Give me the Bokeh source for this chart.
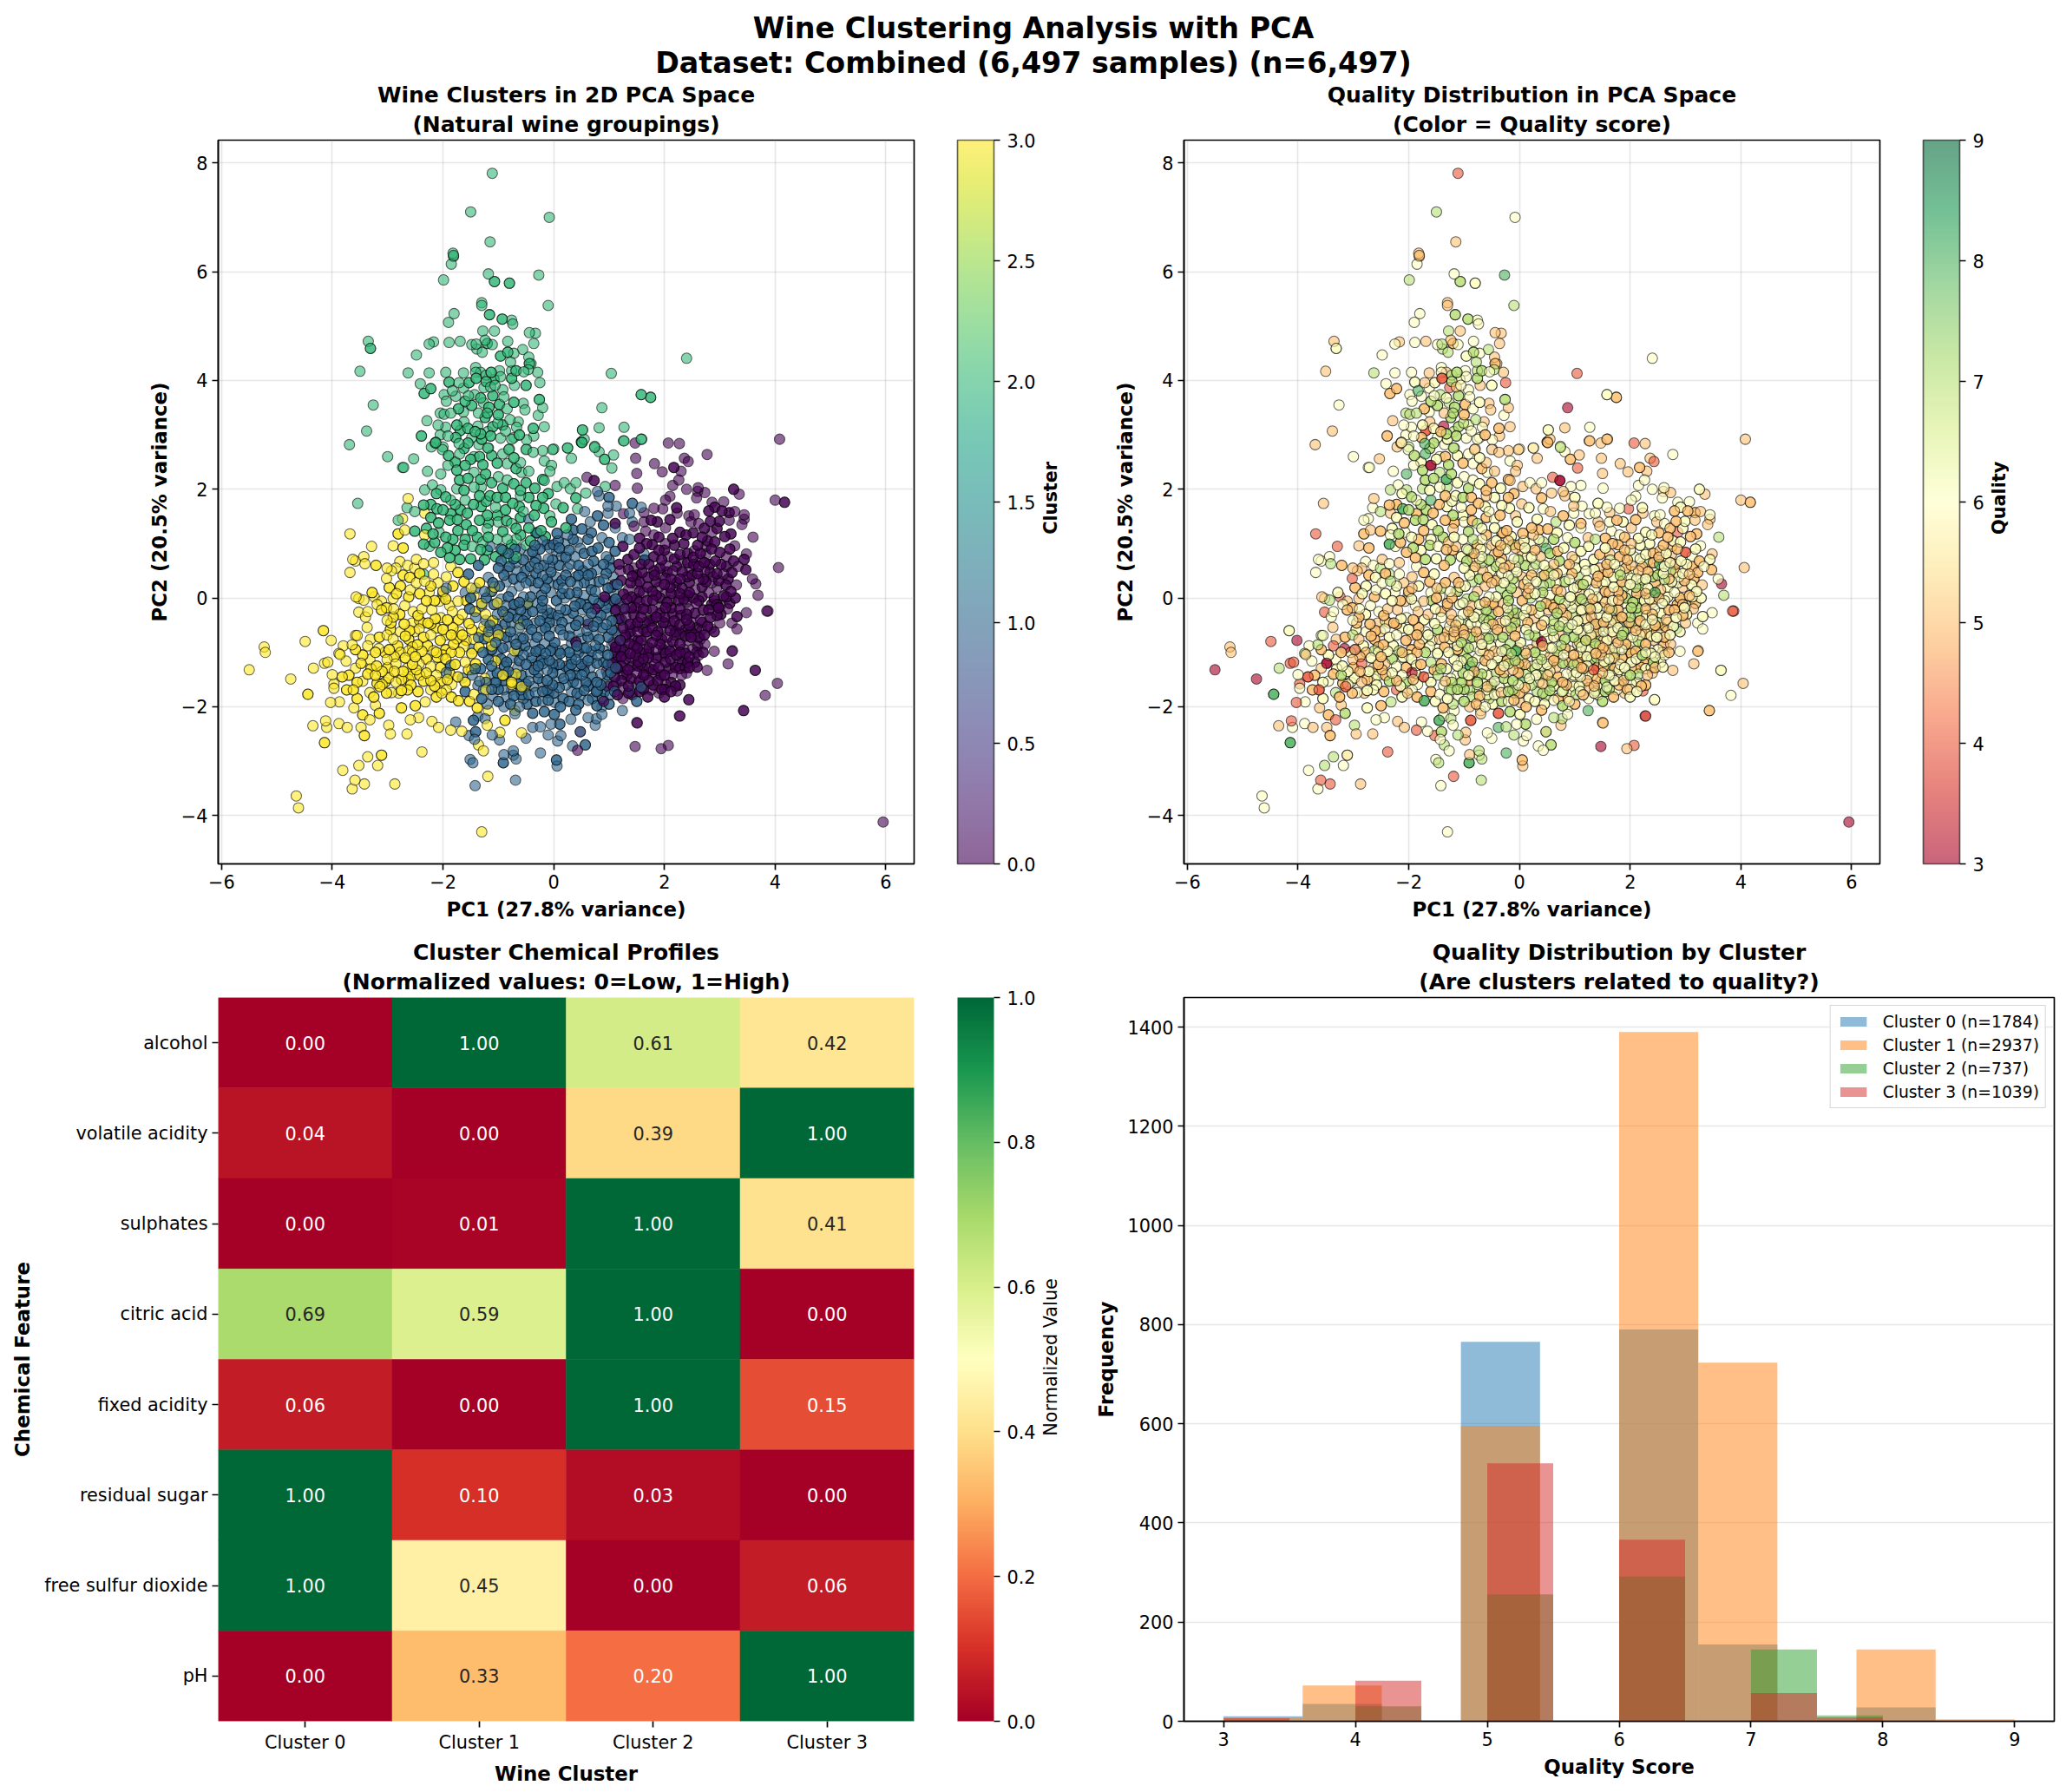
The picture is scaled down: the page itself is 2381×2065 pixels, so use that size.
import numpy as np
from bokeh.core.properties import value
from bokeh.embed import file_html
from bokeh.layouts import column, row
from bokeh.models import (ColorBar, ColumnDataSource, FactorRange, FixedTicker, Legend, LegendItem,
                          LinearColorMapper, PrintfTickFormatter, Title)
from bokeh.palettes import Viridis256
from bokeh.plotting import figure
from bokeh.resources import INLINE

# ---- PCA points: (PC1, PC2, quality) ----
cluster2_points = [(-1.11,7.81,4),(-1.50,7.10,7),(-.08,7.00,6),(-1.15,6.55,5),(-1.82,6.34,5),(-1.81,6.30,5),(-1.81,6.28,5),(-1.85,6.14,6),(-1.99,5.85,7),(-1.18,5.96,6),(-1.07,5.82,7),(-1.07,5.82,7),(-.80,5.79,6),(-.80,5.79,6),(-.27,5.94,8),(-.10,5.38,7),(-1.30,5.43,5),(-1.30,5.38,5),(-1.16,5.21,7),(-1.16,5.21,7),(-.93,5.13,7),(-.93,5.13,7),(-.76,5.11,6),(-.74,5.04,6),(-1.80,5.23,6),(-1.90,5.07,6),(-1.28,4.91,7),(-1.07,4.91,5),(-.44,4.88,5),(-.33,4.87,5),(-.36,4.68,5),(-3.35,4.72,5),(-3.31,4.59,6),(-3.31,4.59,6),(-2.17,4.71,5),(-2.25,4.67,6),(-1.89,4.70,6),(-1.69,4.72,5),(-2.48,4.47,6),(-1.48,4.66,6),(-1.40,4.67,7),(-1.39,4.58,7),(-1.29,4.52,7),(-1.24,4.74,5),(-1.20,4.68,5),(-1.20,4.68,5),(-1.11,4.66,6),(-.83,4.72,6),(-.56,4.57,7),(-.96,4.45,6),(-.96,4.45,6),(-.83,4.52,7),(-.83,4.52,7),(-.72,4.50,6),(-.45,4.43,5),(-.44,4.31,5),(-.44,4.31,5),(-.41,4.31,5),(-.78,4.34,7),(-.46,4.20,7),(-.29,4.15,5),(-.25,3.96,4),(-3.50,4.17,5),(-2.63,4.14,7),(-2.25,4.14,6),(-1.95,4.15,6),(-1.63,4.14,5),(-1.41,4.24,6),(-1.41,4.15,6),(-1.40,4.04,4),(-1.40,4.04,4),(-1.32,4.15,5),(-1.22,4.10,7),(-1.13,4.15,7),(-1.13,4.15,7),(-.98,4.18,6),(-.96,4.07,6),(-.76,4.18,7),(-.68,4.18,7),(-.68,4.18,7),(-.76,4.04,7),(-.76,4.04,7),(-.54,4.16,6),(-1.89,3.97,6),(-1.89,3.97,6),(-1.71,3.96,5),(-1.53,3.96,6),(-1.53,3.96,6),(-2.41,3.94,6),(-2.22,3.85,5),(-2.22,3.85,5),(-2.34,3.76,5),(-2.34,3.76,5),(-1.83,3.81,8),(-1.63,3.86,6),(-1.26,3.87,4),(-1.14,3.88,5),(-1.06,3.91,6),(-.92,3.83,6),(-.71,3.91,5),(-.50,3.91,6),(-.50,3.91,6),(-1.98,3.74,6),(-1.94,3.62,6),(-1.77,3.71,6),(-1.54,3.72,6),(-1.43,3.74,7),(-.90,3.70,6),(-.26,3.65,7),(-.26,3.65,7),(-.55,3.58,5),(-.20,3.50,5),(-.52,3.46,5),(-.28,3.36,6),(-3.26,3.55,6),(-3.38,3.07,5),(-3.69,2.82,5),(-2.29,3.26,5),(-2.05,3.40,7),(-1.98,3.38,7),(-1.86,3.40,7),(-1.63,3.42,6),(-1.48,3.54,7),(-1.48,3.54,7),(-1.36,3.40,5),(-1.27,3.59,7),(-1.17,3.51,7),(-1.17,3.51,7),(-.98,3.56,5),(-.98,3.56,5),(-1.00,3.37,5),(-1.00,3.37,5),(-1.24,3.32,7),(-1.24,3.32,7),(-.84,3.48,6),(-.79,3.28,7),(-.64,3.24,5),(-.67,3.14,6),(-1.62,3.24,5),(-2.09,3.18,6),(-1.95,3.14,6),(-1.37,3.16,3),(-1.42,3.06,5),(-1.42,3.06,5),(-1.69,3.08,4),(-1.69,3.08,4),(-1.01,3.22,7),(-.87,3.07,6),(-1.19,3.06,7),(-1.77,2.95,5),(-1.77,2.95,5),(-2.05,3.00,6),(-2.39,2.98,5),(-2.39,2.98,5),(-1.91,2.98,6),(-1.48,2.95,6),(-1.14,2.98,7),(-1.14,2.98,7),(-.96,2.94,6),(-.72,2.95,6),(-.37,3.12,5),(-.37,3.12,5),(-.17,3.15,5),(-.36,2.98,5),(-.49,2.91,6),(.52,3.09,6),(.52,3.09,6),(.82,3.13,5),(1.27,3.14,6),(1.27,2.89,5),(1.58,2.92,5),(.87,3.50,3),(1.58,3.74,6),(1.58,3.74,6),(1.75,3.69,5),(1.75,3.69,5),(1.04,4.13,4),(2.40,4.41,6),(.50,2.87,5),(.50,2.87,5),(.55,2.92,5),(.74,2.79,6),(.25,2.76,5),(0,2.74,6),(-.20,2.71,5),(-2.13,2.86,6),(-2.13,2.86,6),(-2.21,2.78,5),(-2.0,2.78,7),(-1.71,2.84,8),(-1.35,2.82,6),(-1.19,2.76,7),(-.80,2.74,6),(-.49,2.74,4),(-3.0,2.60,6),(-2.71,2.40,6),(-2.53,2.56,5),(-2.73,2.40,6),(-2.28,2.33,6),(-3.54,1.74,5),(-2.51,1.59,7),(-2.65,1.66,6),(-2.81,1.43,6),(-2.51,1.23,5),(-2.51,1.23,5),(-2.33,1.99,7),(-2.19,2.08,6),(-2.04,1.99,7),(-2.04,2.28,8),(-2.14,2.85,5),(-2.14,2.85,5),(-2.01,2.73,6),(-1.70,2.65,8),(-1.44,2.60,6),(-1.34,2.60,5),(-1.34,2.60,5),(-1.18,2.76,7),(-.92,2.65,6),(-.76,2.92,6),(-.81,2.73,5),(-.84,2.47,6),(-.60,2.49,5),(-.50,2.73,6),(-.37,2.68,5),(-.58,2.31,6),(-.45,2.33,5),(-1.91,2.44,6),(-1.60,2.44,3),(-1.60,2.44,3),(-1.44,2.31,7),(-1.23,2.28,7),(-1.23,2.28,7),(-1.0,2.23,6),(-.84,2.17,6),(-.50,2.12,5),(-.50,2.12,5),(-1.70,2.17,7),(-1.70,2.17,7),(-1.44,2.04,6),(-1.31,2.04,7),(-1.15,1.88,6),(-1.15,1.88,6),(-.87,1.85,5),(-.87,1.85,5),(-.45,1.85,6),(-.45,1.85,6),(-.60,1.88,5),(-1.75,2.01,7),(-1.34,1.88,5),(-1.34,1.88,5),(-1.60,1.80,8),(-1.78,1.72,7),(-1.78,1.72,7),(-2.35,1.71,5),(-2.35,1.71,5),(-2.22,1.72,5),(-2.22,1.72,5),(-2.11,1.64,8),(-2.11,1.64,8),(-1.31,1.68,6),(-1.31,1.68,6),(-.87,1.62,5),(-.87,1.62,5),(-1.05,1.67,6),(-1.86,1.80,6),(-.55,1.59,6),(-.60,1.48,5),(-.60,1.48,5),(-1.56,1.56,5),(-1.56,1.56,5),(-1.88,1.43,7),(-1.88,1.43,7),(-1.34,1.43,5),(-1.34,1.43,5),(-1.0,1.40,6),(-.76,1.37,7),(-.45,1.29,6),(-.45,1.29,6),(-1.73,1.24,5),(-1.73,1.24,5),(-1.47,1.24,7),(-1.47,1.24,7),(-2.07,1.21,6),(-1.20,1.27,5),(-1.02,1.08,6),(-.60,1.16,5),(-.60,1.16,5),(-.68,1.08,6),(-.84,1.08,7),(-1.60,1.08,6),(-1.60,1.08,6),(-1.28,1.03,5),(-2.35,.99,8),(-2.35,.99,8),(-2.24,.95,6),(-2.04,.84,5),(-2.04,.84,5),(-1.62,.97,7),(-1.62,.97,7),(-1.47,.95,6),(-1.32,.89,5),(-1.32,.89,5),(-1.70,.71,7),(-1.70,.71,7),(-1.05,.76,6),(-1.05,.76,6),(-.84,.73,5),(-.68,.76,6),(-.50,.97,5),(-2.35,.44,7),(-.02,2.73,5),(.25,2.76,6),(.32,2.57,5),(.51,2.86,5),(.51,2.86,5),(.74,2.77,7),(.82,2.69,6),(.92,2.55,5),(.92,2.55,5),(1.08,2.63,5),(1.05,2.39,4),(1.26,2.89,5),(1.59,2.92,5),(-.17,2.52,6),(-.04,2.44,5),(-.07,2.33,5),(-.17,2.16,5),(.06,2.05,5),(.19,2.12,6),(.30,2.01,5),(.40,2.12,6),(.58,1.93,5),(.40,1.84,5),(.40,1.84,5),(.17,1.66,6),(.17,1.66,6),(.04,1.73,5),(-.20,1.85,5),(-.20,1.85,5),(.43,1.64,6),(.93,2.05,6),(-.04,1.40,6),(-.04,1.40,6),(-.07,1.51,5),(-.23,1.24,5),(-.23,1.24,5),(-.15,1.13,6),(-.15,1.13,6),(.22,1.29,5),(.22,1.29,5)]
cluster2_core = [(-1.9,2.62,7),(-1.78,2.5,6),(-1.62,2.75,7),(-1.5,2.55,6),(-1.28,2.45,7),(-1.12,2.62,6),(-1.02,2.48,5),(-.72,2.58,6),(-.68,2.38,5),(-1.75,2.35,7),(-1.55,2.2,7),(-1.32,2.18,8),(-1.12,2.12,6),(-.92,2.02,7),(-.72,2.1,6),(-.6,1.98,5),(-.34,2.02,6),(-.2,2.18,5),(-2.12,1.92,6),(-1.95,1.86,7),(-1.62,1.98,6),(-1.22,1.78,6),(-1.02,1.85,7),(-.74,1.74,5),(-.32,1.7,6),(-.1,1.92,5),(-2.0,1.62,7),(-1.86,1.55,5),(-1.68,1.62,7),(-1.45,1.72,5),(-1.2,1.52,7),(-1.02,1.52,6),(-.85,1.42,5),(-.62,1.68,6),(-.35,1.52,5),(-.18,1.65,6),(-2.22,1.48,6),(-2.08,1.38,5),(-1.74,1.44,7),(-1.58,1.35,6),(-1.18,1.38,5),(-.92,1.22,7),(-.68,1.28,6),(-.32,1.2,5),(-2.3,1.28,6),(-2.18,1.18,7),(-1.95,1.12,6),(-1.82,1.08,5),(-1.38,1.12,7),(-1.18,1.12,6),(-.76,.98,5),(-.42,1.05,6),(-2.15,1.02,5),(-1.92,.92,7),(-1.78,.88,6),(-1.2,.88,5),(-.92,.88,7),(-1.88,.74,5),(-1.5,.72,6),(-1.25,.7,7),(-1.32,3.02,7),(-1.55,3.12,6),(-1.1,3.15,7),(-.92,3.18,6),(-1.6,3.62,7),(-1.32,3.68,6),(-1.1,3.72,7),(-1.72,3.48,5),(-.72,3.6,6),(-1.2,3.4,7),(-1.3,2.92,6),(-1.55,2.85,7),(-.62,3.0,5),(-1.08,4.02,6),(-1.22,3.98,7),(-1.75,3.18,6)]
cluster3_points = [(-2.63,1.83,5),(-2.33,1.56,5),(-2.73,1.46,6),(-3.68,1.18,4),(-2.69,1.25,5),(-2.81,1.18,5),(-2.81,1.18,5),(-2.33,1.16,6),(-3.29,.95,4),(-2.90,.96,5),(-2.72,.92,5),(-2.72,.92,5),(-3.63,.71,6),(-3.58,.68,6),(-3.43,.76,6),(-3.41,.63,7),(-3.68,.47,6),(-3.21,.60,5),(-3.21,.60,5),(-3.01,.55,5),(-2.78,.67,6),(-2.85,.55,5),(-2.93,.50,5),(-3.02,.36,4),(-2.64,.60,6),(-2.48,.71,5),(-2.35,.63,6),(-2.17,.65,5),(-2.51,.55,7),(-2.97,.19,5),(-2.97,.19,5),(-2.77,.22,6),(-2.77,.22,6),(-2.59,.15,6),(-2.48,.28,6),(-2.33,.31,7),(-2.09,.28,5),(-1.94,.39,5),(-1.73,.47,5),(-1.73,.47,5),(-1.86,.58,6),(-2.17,.44,6),(-3.57,.02,5),(-3.52,-.01,6),(-3.43,-.04,7),(-3.28,.10,6),(-3.28,.10,6),(-3.24,.02,4),(-3.11,-.06,5),(-3.19,-.12,6),(-3.11,-.22,5),(-3.11,-.22,5),(-3.52,-.26,4),(-3.40,-.35,6),(-3.36,-.25,6),(-3.37,-.54,5),(-2.90,-.01,5),(-2.69,-.14,6),(-2.89,-.20,6),(-2.54,-.25,6),(-2.38,-.20,5),(-2.20,-.22,5),(-2.25,.10,6),(-2.07,-.06,5),(-1.88,-.14,6),(-1.73,-.06,5),(-1.44,.04,6),(-1.34,.28,5),(-1.34,.28,5),(-1.07,.20,6),(-1.07,.20,6),(-1.15,.12,5),(-1.02,-.09,6),(-1.49,.18,5),(-.89,-.30,7),(-.89,-.30,7),(-1.23,-.30,5),(-1.53,-.47,6),(-1.53,-.47,6),(-1.65,-.30,5),(-1.83,-.25,5),(-2.04,-.36,6),(-2.35,-.46,5),(-2.27,-.46,5),(-2.27,-.46,5),(-2.56,-.46,5),(-2.94,-.46,5),(-2.94,-.46,5),(-3.01,-.41,6),(-2.51,-.62,5),(-2.77,-.62,6),(-3.01,-.68,7),(-2.90,-.76,5),(-2.62,-.76,5),(-2.62,-.76,5),(-2.43,-.57,6),(-2.22,-.68,6),(-1.94,-.68,5),(-1.70,-.62,6),(-1.65,-.68,6),(-1.65,-.68,6),(-1.44,-.76,5),(-1.26,-.52,6),(-1.0,-.68,5),(-1.0,-.68,5),(-.89,-.62,5),(-.71,-.97,6),(-.60,-.49,6),(-.47,-.09,5),(-.47,-.09,5),(-.58,-1.63,5),(-.58,-1.63,5),(-4.16,-.60,6),(-4.16,-.60,6),(-4.49,-.80,4),(-4.02,-.78,3),(-5.23,-.90,5),(-5.21,-1.0,5),(-5.50,-1.32,3),(-4.75,-1.49,3),(-4.34,-1.29,7),(-4.14,-1.20,4),(-4.08,-1.18,4),(-3.86,-1.04,5),(-3.80,-.88,6),(-3.75,-1.16,6),(-3.64,-.86,7),(-3.58,-.69,7),(-3.58,-.95,5),(-3.58,-.95,5),(-3.36,-.88,4),(-3.31,-.76,5),(-3.16,-.93,3),(-2.97,-.95,3),(-2.97,-.95,5),(-2.77,-1.0,5),(-2.77,-1.0,5),(-2.62,-.97,7),(-2.46,-.86,5),(-2.46,-.86,5),(-2.28,-.88,6),(-2.28,-.88,6),(-2.17,-.97,7),(-2.10,-1.09,6),(-2.10,-1.09,6),(-1.81,-.85,5),(-1.81,-.85,5),(-1.62,-.89,6),(-1.60,-1.18,7),(-1.41,-1.21,5),(-1.41,-1.21,5),(-1.05,-1.16,6),(-1.05,-1.16,6),(-3.48,-1.20,3),(-3.48,-1.20,3),(-3.32,-1.13,6),(-3.01,-1.13,5),(-2.85,-1.21,4),(-2.64,-1.29,5),(-2.43,-1.21,5),(-2.22,-1.26,6),(-4.0,-1.41,6),(-3.82,-1.45,4),(-3.82,-1.45,4),(-3.97,-1.58,4),(-3.97,-1.66,6),(-3.58,-1.29,5),(-3.36,-1.40,5),(-3.36,-1.40,5),(-3.45,-1.53,6),(-3.19,-1.57,5),(-3.19,-1.57,5),(-3.14,-1.63,4),(-3.14,-1.63,4),(-2.98,-1.47,6),(-2.98,-1.47,6),(-2.85,-1.55,5),(-2.64,-1.40,7),(-2.48,-1.32,5),(-2.48,-1.32,5),(-2.35,-1.53,7),(-2.35,-1.53,7),(-2.12,-1.42,6),(-1.94,-1.69,6),(-1.73,-1.45,4),(-1.73,-1.45,4),(-3.74,-1.69,5),(-3.74,-1.69,5),(-3.62,-1.69,4),(-3.62,-1.69,4),(-4.44,-1.77,8),(-4.44,-1.77,8),(-3.32,-1.74,7),(-2.93,-1.74,6),(-2.64,-1.69,6),(-2.64,-1.69,6),(-2.22,-1.69,4),(-2.04,-1.71,6),(-1.44,-1.77,6),(-1.23,-1.69,7),(-1.54,-1.32,5),(-1.54,-1.32,5),(-.92,-1.42,6),(-.92,-1.42,6),(-.68,-1.40,7),(-.68,-1.40,7),(-.76,-1.55,7),(-.76,-1.55,7),(-1.15,-.73,6),(-4.12,-2.26,4),(-4.03,-1.92,4),(-3.87,-1.91,6),(-3.61,-2.02,5),(-3.88,-2.31,6),(-3.73,-2.38,5),(-4.35,-2.35,5),(-4.1,-2.38,6),(-4.14,-2.66,8),(-4.14,-2.66,8),(-3.48,-2.38,5),(-3.42,-2.53,5),(-3.42,-2.53,5),(-3.32,-2.24,4),(-2.98,-2.34,7),(-2.95,-2.5,5),(-2.65,-2.5,5),(-2.59,-2.24,6),(-2.44,-2.2,6),(-2.2,-2.27,5),(-2.08,-2.38,5),(-1.86,-2.43,4),(-1.66,-2.45,6),(-2.38,-2.83,4),(-3.36,-2.92,7),(-3.11,-2.89,5),(-3.11,-2.89,6),(-3.18,-3.08,6),(-3.52,-3.08,7),(-3.81,-3.17,6),(-3.42,-3.42,4),(-2.87,-3.42,5),(-3.59,-3.35,4),(-3.64,-3.51,6),(-4.65,-3.64,6),(-4.61,-3.86,6),(-1.19,-3.28,4),(-1.30,-4.30,6),(-1.36,-2.70,7),(-1.27,-2.81,6),(-1.2,-2.34,6),(-.88,-2.25,4),(-.88,-2.25,4),(-.97,-2.47,5),(-.58,-2.48,6),(-.7,-2.07,6),(-3.22,-1.97,5),(-3.10,-1.59,6),(-2.8,-1.75,5),(-2.56,-1.43,6),(-2.32,-1.91,7),(-2.02,-1.75,5),(-1.84,-1.59,6),(-1.48,-1.32,7),(-1.72,-1.89,8),(-1.72,-1.89,8),(-1.18,-2.07,6),(-.52,-1.64,7),(-.52,-1.64,7),(-.76,-1.59,6),(-.94,-1.43,7),(-1.24,-1.48,6),(-3.88,-1.02,7),(-3.55,-.69,6)]
cluster3_core = [(-2.72,.42,5),(-2.6,.38,6),(-2.42,.45,5),(-2.22,.22,6),(-2.0,.12,5),(-1.82,.22,6),(-1.62,.3,5),(-2.84,.08,6),(-2.62,.02,5),(-2.42,.08,6),(-2.15,-.05,5),(-1.95,-.02,6),(-1.58,-.05,7),(-1.3,-.1,5),(-3.02,-.18,5),(-2.78,-.3,6),(-2.45,-.32,5),(-2.14,-.38,6),(-1.92,-.4,5),(-1.72,-.4,6),(-1.42,-.25,5),(-1.1,-.42,6),(-2.7,-.48,5),(-2.12,-.55,6),(-1.82,-.55,5),(-1.48,-.58,7),(-1.18,-.72,5),(-2.95,-.58,6),(-2.6,-.6,5),(-2.35,-.72,6),(-2.05,-.78,5),(-1.75,-.75,6),(-1.35,-.9,5),(-1.12,-.88,6),(-3.15,-.72,5),(-2.82,-.88,6),(-2.55,-.9,5),(-2.38,-.98,6),(-1.95,-.95,5),(-1.7,-1.0,7),(-1.48,-1.02,6),(-3.22,-1.0,5),(-3.05,-1.0,6),(-2.88,-1.08,5),(-2.68,-1.1,6),(-2.5,-1.08,5),(-2.3,-1.12,7),(-1.95,-1.12,6),(-1.78,-1.22,5),(-3.2,-1.25,6),(-3.0,-1.28,5),(-2.72,-1.35,6),(-2.55,-1.22,5),(-2.3,-1.38,6),(-2.05,-1.28,5),(-1.88,-1.38,6),(-3.22,-1.42,7),(-3.05,-1.55,6),(-2.75,-1.5,5),(-2.58,-1.6,6),(-2.22,-1.52,5),(-2.05,-1.55,7),(-1.6,-1.55,6),(-3.02,-1.75,5),(-2.75,-1.7,6),(-2.45,-1.72,5),(-2.12,-1.82,6),(-1.85,-1.82,5),(-3.55,-1.55,6),(-3.7,-1.42,5),(-3.45,-1.05,6),(-3.25,-1.82,5),(-3.55,-1.85,6),(-3.45,-2.15,5),(-3.15,-2.12,7),(-2.75,-2.02,6),(-2.5,-1.98,5),(-1.52,-1.9,6),(-1.38,-2.02,5),(-2.68,-.7,5),(-2.42,-.42,6),(-2.22,-.48,5),(-2.0,-.58,6),(-1.85,-.68,5),(-1.58,-.78,6),(-1.3,-.62,5),(-2.55,-1.0,6),(-2.12,-1.0,5),(-2.0,-1.05,6),(-1.85,-1.0,5),(-3.1,-1.35,6),(-2.88,-1.35,5),(-2.62,-1.5,6),(-2.42,-1.42,5),(-2.15,-1.62,6),(-1.92,-1.5,5),(-3.3,-1.3,6),(-2.9,-.35,5),(-2.3,-.05,6)]
cluster1_points = [(.79,1.96,5),(1.0,1.85,6),(1.0,1.85,6),(.82,1.88,5),(1.13,1.69,6),(.98,1.69,5),(1.42,1.74,6),(1.42,1.74,6),(1.37,1.56,6),(1.58,1.67,6),(1.42,1.40,5),(.98,1.56,6),(.79,1.51,5),(.79,1.51,5),(.56,1.59,5),(.32,1.45,6),(.32,1.45,6),(.66,1.40,7),(.90,1.34,6),(.90,1.34,6),(.51,1.27,5),(.51,1.27,5),(1.11,1.29,6),(.25,1.16,5),(.06,1.19,5),(.06,1.19,5),(.43,1.03,7),(.87,1.11,6),(1.37,1.08,7),(1.24,1.11,5),(.48,.91,8),(.69,.86,5),(.69,.86,5),(1.11,.86,6),(1.11,.86,6),(1.64,.70,6),(1.64,.70,6),(1.63,.81,5),(.95,.76,5),(.53,.50,7),(.53,.50,7),(.14,.76,6),(-.07,.92,5),(.38,.76,5),(1.08,.39,7),(.25,.55,6),(-.07,.58,6),(-.28,.55,5),(.04,.39,5),(.40,.39,7),(.66,.28,6),(.90,.34,6),(1.08,.10,5),(.92,-.04,6),(.43,.23,7),(.17,.18,5),(-.09,.28,6),(.40,-.04,6),(1.26,-.17,7),(1.11,-.25,5),(.79,-.44,6),(.79,-.44,6),(.61,-.41,7),(.27,-.38,5),(.04,-.41,6),(-.2,-.30,7),(.95,-.49,6),(1.38,-.52,8),(.72,-.68,5),(.46,-.62,6),(.17,-.68,7),(-.07,-.57,5),(.82,-.76,7),(.82,-.76,7),(.59,-.92,6),(.32,-.84,5),(.09,-.97,6),(-.17,-.84,7),(.9,-.97,6),(1.21,-.97,5),(.69,-1.10,5),(.40,-1.13,7),(.32,-1.10,6),(.32,-1.10,6),(-.06,-.97,8),(-.06,-.97,8),(.22,-1.26,6),(.22,-1.26,6),(-.02,-1.21,5),(-.2,-1.21,7),(.9,-1.18,5),(.9,-1.18,5),(1.03,-1.37,6),(1.03,-1.37,6),(1.13,-1.58,6),(.79,-1.71,7),(.79,-1.71,7),(.51,-1.42,5),(.64,-1.61,6),(.3,-1.42,6),(.3,-1.42,6),(.04,-1.53,8),(-.12,-1.69,7),(-.12,-1.69,7),(-.28,-1.37,5),(1.58,-1.63,8),(1.37,-1.71,7),(-1.15,.95,5),(-1.0,.55,6),(-1.0,.55,6),(-.66,.5,5),(-.45,1.45,6),(-.34,.97,5),(-.34,.97,5),(-.68,.65,7),(-.34,.65,6),(-.5,.28,5),(-.84,.5,6),(-1.36,.6,5),(-1.36,.6,5),(-1.54,.44,6),(-1.54,.44,6),(-1.41,.18,7),(-1.94,.18,5),(-2.01,.04,7),(-1.6,.1,6),(-.76,.12,5),(-.55,.02,6),(-.34,.18,7),(-.68,-.14,6),(-.87,-.14,5),(-1.02,-.3,6),(-.5,-.3,7),(-.5,-.3,7),(-1.23,-.41,5),(-1.41,-.36,6),(-1.05,-.46,7),(-.76,-.46,6),(-.34,-.46,5),(-1.18,-.62,5),(-.6,-.73,7),(-.81,-.89,6),(-1.36,-.73,5),(-1.47,-.94,6),(-1.15,-.97,7),(-.34,-.84,6),(-1.18,-1.13,6),(-1.18,-1.13,6),(-.89,-1.26,8),(-.89,-1.26,8),(-.55,-1.05,5),(-.34,-1.21,7),(-1.86,-1.24,6),(-1.86,-1.24,6),(-1.94,-1.37,3),(-1.13,-1.42,6),(-1.05,-1.55,7),(-1.05,-1.55,7),(-.45,-1.53,6),(-.76,-1.69,7),(-.37,-1.63,6),(-1.47,-1.42,7),(-1.34,-1.53,5),(-1.65,-1.47,6),(-1.77,-2.28,6),(-1.45,-2.25,8),(-1.45,-2.25,8),(-1.37,-2.17,6),(-1.24,-2.22,7),(-1.11,-2.52,7),(-.98,-2.61,5),(-1.41,-2.46,7),(-1.41,-2.46,7),(-1.43,-2.6,6),(-1.53,-2.53,4),(-.5,-2.58,6),(-.38,-2.38,8),(-.24,-2.37,7),(-.1,-2.52,7),(.07,-2.63,6),(.13,-2.53,6),(-.05,-2.32,6),(.11,-2.32,7),(.11,-2.32,7),(.31,-2.23,6),(.62,-2.2,7),(.75,-2.34,5),(.77,-2.22,7),(.87,-2.14,6),(.87,-2,6),(1.24,-2.07,8),(-.7,-2.13,5),(.48,-2.46,7),(-.17,-2.09,7),(-.17,-2.09,7),(-.38,-2.12,4),(-.38,-2.12,4),(.01,-2.14,6),(.01,-2.14,6),(.4,-2.06,5),(.4,-2.06,5),(-1.03,-1.56,6),(-.85,-1.82,7),(-.59,-1.69,6),(-.33,-1.74,5),(-.09,-1.74,7),(-.09,-1.74,7),(.17,-1.85,6),(.17,-1.85,6),(.48,-1.8,7),(.77,-1.72,6),(.77,-1.72,6),(1.5,-1.9,7),(1.5,-1.9,7),(1.58,-1.64,6),(-1.27,-1.69,7),(-1.37,-1.61,6),(-.9,-1.69,7),(-1.51,-2.97,6),(-1.46,-3.03,7),(-.91,-3.03,8),(-.91,-3.03,8),(-.90,-2.88,5),(-.73,-2.81,7),(-.73,-2.89,6),(-.68,-2.96,7),(-.24,-2.85,8),(.05,-2.98,5),(.05,-2.98,5),(.06,-3.09,5),(.34,-2.72,6),(.57,-2.70,7),(.57,-2.70,7),(-1.42,-3.45,6),(-.69,-3.35,7),(-.6,.9,6),(-.45,.8,5),(-.2,1.05,5),(-.1,.72,6),(.05,.85,5),(.2,1.0,6),(.3,.62,7),(.62,.62,5),(.78,.52,6),(-.85,.3,7),(-.62,.22,5),(-.2,.4,6),(-.05,.1,5),(.2,.0,7),(.55,.05,6),(.75,.12,5),(1.0,-.1,6),(-1.18,.38,5),(-1.25,.12,6),(-.95,-.02,7),(-.3,-.1,5),(-.12,-.22,7),(.12,-.2,6),(.52,-.22,5),(.95,-.3,7),(-1.3,-.15,5),(-.62,-.55,6),(-.45,-.68,7),(-.22,-.6,5),(.3,-.55,6),(.6,-.6,7),(1.12,-.65,6),(-.95,-.7,6),(-.72,-.75,5),(-.15,-1.02,7),(.2,-.95,5),(.5,-.75,6),(.75,-.88,7),(1.05,-.85,5),(-1.02,-1.0,7),(-.75,-1.1,6),(-.45,-.98,5),(-.18,-1.08,6),(.05,-1.1,7),(.55,-1.08,5),(.8,-1.05,6),(1.1,-1.1,7),(-.65,-1.28,6),(-.42,-1.38,7),(-.12,-1.32,5),(.12,-1.38,7),(.42,-1.25,6),(.66,-1.28,5),(.85,-1.4,6),(-.75,-1.42,7),(-.2,-1.55,6),(.22,-1.6,7),(.42,-1.58,5),(.95,-1.55,6),(-.55,-1.85,7),(-.2,-1.9,6),(.02,-1.92,5),(.32,-1.72,7),(.62,-1.88,6),(1.02,-1.78,7),(-1.1,-1.8,6),(-1.2,-1.95,7),(-.9,-2.0,5),(-.62,-2.0,6)]
cluster1_core = [(-.82,.82,5),(-.7,.9,6),(-.55,.7,7),(-.38,.85,5),(-.25,.9,6),(-.12,.98,7),(.0,.98,5),(.1,.92,6),(.28,.88,5),(.35,1.08,6),(.55,.82,7),(.8,.92,6),(.9,.62,5),(1.0,.7,6),(-.95,.68,7),(-.8,.58,5),(-.52,.5,6),(-.42,.58,7),(-.18,.6,5),(-.05,.48,6),(.1,.6,7),(.22,.42,5),(.45,.6,6),(.68,.45,5),(.82,.3,7),(1.02,.55,6),(-1.1,.28,5),(-.98,.22,6),(-.72,.35,7),(-.42,.32,5),(-.28,.28,6),(-.15,.18,7),(.08,.25,5),(.3,.3,6),(.55,.28,7),(.68,.15,5),(.98,.18,6),(1.15,.25,7),(-1.22,.0,5),(-1.08,-.12,6),(-.82,.02,7),(-.62,-.08,5),(-.42,.02,6),(-.22,.05,7),(.05,-.05,5),(.28,.08,6),(.42,.1,7),(.58,-.12,5),(.82,-.1,6),(1.12,-.02,7),(-.92,-.25,5),(-.75,-.28,6),(-.6,-.22,7),(-.38,-.25,5),(-.22,-.18,6),(-.05,-.28,7),(.22,-.22,5),(.35,-.28,6),(.68,-.28,7),(.85,-.32,5),(1.05,-.42,6),(-1.15,-.5,5),(-.88,-.48,6),(-.65,-.38,7),(-.48,-.48,5),(-.25,-.42,6),(-.08,-.45,7),(.15,-.45,5),(.45,-.42,6),(.88,-.55,7),(1.22,-.4,5),(-1.25,-.75,6),(-1.05,-.82,7),(-.78,-.62,5),(-.52,-.88,6),(-.3,-.72,7),(-.08,-.7,5),(.02,-.82,6),(.28,-.7,7),(.42,-.88,5),(.62,-.72,6),(.98,-.72,7),(1.2,-.78,5),(-1.28,-1.0,6),(-.92,-.92,7),(-.65,-.98,5),(-.4,-1.1,6),(-.25,-.95,7),(.12,-1.02,5),(.45,-1.0,6),(.68,-.98,7),(.98,-1.05,5),(-1.12,-1.25,6),(-.95,-1.12,7),(-.62,-1.15,5),(-.28,-1.25,6),(-.08,-1.15,7),(.1,-1.22,5),(.5,-1.22,6),(.78,-1.2,7),(1.12,-1.28,5),(-1.32,-1.3,6),(-1.02,-1.38,7),(-.82,-1.35,5),(-.58,-1.42,6),(-.28,-1.48,7),(-.02,-1.38,5),(.18,-1.48,6),(.42,-1.42,7),(.7,-1.45,5),(.98,-1.42,6),(-1.22,-1.55,7),(-.9,-1.52,5),(-.65,-1.58,6),(-.12,-1.52,7),(.1,-1.65,5),(.35,-1.55,6),(.58,-1.55,7),(.85,-1.6,5),(1.1,-1.72,6),(-1.0,-1.68,7),(-.72,-1.8,5),(-.45,-1.78,6),(-.2,-1.72,7),(.0,-1.75,5),(.28,-1.9,6),(.55,-1.7,7),(.7,-1.85,5),(.92,-1.72,6),(-1.0,-1.9,7),(-.78,-1.95,5),(-.48,-1.95,6),(-.32,-1.9,7),(.12,-2.0,5),(.45,-1.95,6),(.78,-1.98,7),(1.0,-1.95,5),(-1.3,-1.85,6),(-1.42,-1.3,7),(-1.6,-1.72,5),(-1.52,-.2,6),(-1.5,.0,5),(-.95,.9,6),(-.3,1.2,5),(.08,1.05,6),(.62,1.08,7),(.35,1.25,5),(.68,1.2,6),(1.0,1.02,7),(-.72,.72,6),(-.32,.72,5),(-.02,.7,7),(.22,.75,6),(.45,.42,5),(.72,.68,7),(-.9,.42,6),(-.58,.38,5),(-.32,.45,6),(-.12,.35,7),(.15,.08,5),(.62,.42,6),(.95,.45,5),(-1.12,.12,7),(-.72,-.12,6),(-.48,-.12,5),(-.2,-.05,7),(.15,.32,6),(.48,-.1,5),(.72,-.02,7),(1.05,.2,6),(-1.02,-.58,5),(-.82,-.35,6),(-.55,-.42,7),(-.12,-.35,5),(.08,-.32,6),(.38,-.15,7),(.62,-.18,5),(.95,-.18,6),(-.85,-.72,7),(-.68,-.85,6),(-.4,-.58,5),(-.15,-.55,7),(.12,-.58,6),(.4,-.5,5),(.72,-.52,7),(1.05,-.58,6),(-1.12,-.95,5),(-.55,-.75,7),(-.32,-.98,6),(-.02,-.92,5),(.28,-1.0,7),(.55,-.92,6),(.82,-.92,5),(-.85,-1.18,7),(-.5,-1.22,6),(-.22,-1.15,5),(.0,-1.28,7),(.32,-1.22,6),(.62,-1.15,5),(.98,-1.22,7),(-.9,-1.42,6),(-.5,-1.58,7),(-.35,-1.32,5),(-.02,-1.6,6),(.28,-1.3,7),(.55,-1.35,6),(.78,-1.55,5),(-1.12,-1.68,7),(-.58,-1.78,6),(-.1,-1.88,5),(.42,-1.75,7),(.62,-1.62,6),(.88,-1.85,5)]
cluster0_points = [(1.47,2.85,5),(2.07,2.85,4),(2.27,2.84,5),(4.08,2.92,5),(2.77,2.64,6),(2.36,2.57,5),(2.43,2.51,4),(1.48,2.57,5),(1.82,2.47,5),(2.17,2.4,5),(2.17,2.4,5),(1.96,2.32,5),(2.30,2.33,5),(1.5,2.29,5),(.6,2.22,4),(.73,2.16,3),(.73,2.16,3),(1.11,2.07,6),(1.51,2.02,6),(2.26,2.17,6),(2.15,2.07,6),(2.4,2.0,6),(2.61,2.03,6),(2.6,1.96,5),(2.73,1.94,5),(3.25,2.0,6),(3.25,2.0,6),(3.35,1.91,5),(2.58,1.84,6),(2.1,1.87,6),(2.02,1.8,6),(2.86,1.76,6),(3.07,1.77,6),(4.0,1.8,5),(4.17,1.76,5),(4.17,1.76,5),(2.22,1.66,6),(2.22,1.66,6),(1.81,1.65,6),(1.97,1.64,4),(2.91,1.67,6),(2.91,1.67,6),(2.8,1.6,5),(2.8,1.6,5),(3.04,1.6,5),(3.04,1.6,5),(3.17,1.57,5),(3.17,1.57,5),(3.27,1.59,5),(3.44,1.53,6),(3.44,1.45,5),(3.4,1.35,5),(2.23,1.56,5),(2.54,1.53,6),(2.44,1.51,6),(2.48,1.4,5),(2.62,1.37,6),(2.83,1.41,5),(2.83,1.41,5),(2.99,1.41,6),(2.99,1.41,6),(3.17,1.43,5),(1.63,1.57,5),(1.26,1.55,6),(1.76,1.43,5),(1.76,1.43,5),(1.87,1.4,6),(1.87,1.4,6),(2.1,1.44,5),(2.1,1.44,5),(2.02,1.29,5),(1.63,1.4,6),(1.45,1.32,5),(1.66,1.23,6),(1.11,1.37,5),(1.11,1.37,5),(2.28,1.21,6),(2.28,1.21,6),(2.52,1.2,5),(2.52,1.2,5),(2.39,1.16,6),(2.39,1.16,6),(2.86,1.21,4),(3.09,1.13,5),(3.09,1.13,5),(3.6,1.12,7),(2.91,1.03,6),(2.91,1.03,6),(3.27,.96,6),(1.68,1.0,5),(1.68,1.0,5),(2.02,1.0,5),(2.18,.97,6),(2.18,.97,6),(2.6,.97,5),(2.6,.97,5),(2.75,.95,5),(1.81,1.16,6),(3.48,.81,5),(3.0,.84,4),(3.0,.84,4),(2.92,.68,6),(2.92,.68,6),(3.44,.71,6),(3.44,.71,6),(3.47,.52,5),(3.47,.52,5),(3.33,.58,6),(3.12,.76,6),(4.06,.56,5),(2.53,.62,8),(2.53,.62,8),(2.28,.8,6),(2.28,.8,6),(2.54,.87,5),(2.75,.81,5),(2.07,.76,6),(1.81,.76,5),(1.81,.76,5),(1.34,.71,6),(1.34,.71,6),(1.63,.68,7),(2.02,.6,5),(2.31,.68,7),(2.73,.5,7),(2.88,.39,6),(3.07,.44,5),(3.22,.47,5),(3.22,.47,5),(2.28,.35,6),(2.28,.35,6),(2.41,.39,7),(2.41,.39,7),(1.81,.5,6),(1.81,.5,6),(1.6,.47,5),(1.6,.47,5),(1.39,.28,5),(1.39,.28,5),(1.5,.26,6),(2.02,.36,6),(2.62,.34,7),(2.86,.28,6),(3.11,.24,6),(3.11,.24,6),(3.59,.35,6),(3.65,.26,3),(3.3,.24,5),(3.69,.05,7),(3.07,.04,5),(3.07,.04,5),(3.28,0,6),(3.28,0,6),(3.01,-.14,6),(3.14,-.2,5),(3.48,-.27,6),(3.85,-.24,4),(3.02,-.3,6),(3.02,-.3,6),(3.31,-.34,6),(3.31,-.34,6),(3.22,-.46,6),(3.0,-.46,5),(2.83,-.36,6),(2.83,-.36,6),(2.84,-.56,8),(2.67,-.6,5),(3.31,-.57,6),(2.45,.1,8),(2.45,.1,8),(2.26,-.05,6),(2.26,-.05,6),(1.79,-.04,5),(1.79,-.04,5),(1.26,.07,6),(1.26,.07,6),(2.02,.1,6),(2.7,-.22,5),(2.7,-.22,5),(2.44,-.2,6),(2.15,-.29,7),(2.15,-.29,7),(1.85,-.35,5),(1.85,-.35,5),(1.45,-.31,6),(1.45,-.31,6),(1.67,-.22,7),(2.28,-.49,6),(2.28,-.49,6),(2.02,-.46,7),(1.85,-.69,7),(1.85,-.69,7),(2.28,-.65,5),(2.28,-.65,5),(2.18,-.68,6),(1.52,-.62,6),(1.13,-.41,5),(1.29,-.68,6),(2.54,-.68,6),(2.65,-.76,6),(2.73,-.85,5),(2.9,-.98,6),(3.22,-.98,5),(2.35,-.94,6),(2.05,-.86,6),(1.51,-.92,5),(1.51,-.92,5),(1.08,-.81,7),(.4,-.81,3),(.4,-.81,3),(1.71,-1.1,5),(1.71,-1.1,5),(2.11,-1.12,6),(2.11,-1.12,6),(2.45,-1.08,6),(2.45,-1.08,6),(1.37,-.84,7),(1.37,-.84,7),(1.13,-1.13,5),(1.13,-1.13,5),(1.53,-1.17,6),(1.53,-1.17,6),(1.92,-1.08,6),(1.16,-1.29,4),(1.16,-1.29,4),(2.59,-1.27,6),(2.59,-1.27,6),(3.15,-1.21,5),(3.64,-1.33,6),(3.64,-1.33,6),(4.04,-1.57,5),(2.77,-1.33,5),(2.4,-1.38,5),(2.31,-1.42,5),(1.94,-1.42,6),(1.94,-1.42,6),(1.65,-1.42,6),(1.34,-1.32,4),(1.34,-1.32,4),(2.02,-1.58,6),(.98,-1.63,6),(2.23,-1.71,4),(1.76,-1.69,6),(3.82,-1.79,6),(5.95,-4.12,3),(3.43,-2.07,5),(3.43,-2.07,5),(2.44,-1.87,6),(2.44,-1.87,6),(2.27,-2.17,3),(1.5,-2.29,5),(1.47,-2.73,3),(1.94,-2.77,5),(2.07,-2.71,4),(2.28,-2.17,4),(1.51,-2.30,5),(.43,-2.80,6),(.48,-2.46,5),(3.87,-.24,4),(3.23,-.97,5),(1.2,.5,6),(1.45,.55,5),(1.95,.42,6),(2.15,.5,5),(2.45,.55,6),(2.65,.7,5),(1.35,.15,6),(1.62,.1,5),(1.9,.2,7),(2.2,.15,6),(2.55,.15,5),(2.8,.1,6),(2.95,.2,5),(1.1,.25,5),(1.2,-.1,6),(1.55,-.08,5),(1.95,-.15,6),(2.12,-.05,7),(2.4,-.08,5),(2.58,-.1,6),(2.9,-.05,7),(1.3,-.35,5),(1.65,-.45,6),(1.95,-.55,5),(2.15,-.5,6),(2.5,-.45,7),(2.65,-.4,5),(1.1,-.6,6),(1.42,-.72,7),(1.68,-.72,5),(2.05,-.72,6),(2.42,-.78,5),(1.2,-.95,6),(1.62,-.95,5),(1.85,-.95,6),(2.2,-.95,7),(2.5,-.95,6),(1.4,-1.1,7),(1.82,-1.22,6),(2.25,-1.2,5),(2.62,-1.05,6),(1.25,-1.4,6),(1.5,-1.38,5),(1.82,-1.4,6),(2.15,-1.4,7),(1.25,-1.65,5),(1.5,-1.6,6),(1.9,-1.75,5),(.95,-1.35,6),(.9,-1.9,6),(1.25,-1.85,6)]
cluster0_core = [(1.9,1.12,5),(2.15,1.1,6),(2.68,1.12,5),(2.78,1.05,6),(3.2,1.18,5),(1.55,.92,6),(1.9,.88,5),(2.35,1.0,6),(2.42,.82,5),(2.65,.82,6),(2.85,.9,5),(3.18,.9,6),(1.45,.8,5),(1.72,.62,6),(1.95,.7,5),(2.18,.72,6),(2.42,.65,5),(2.62,.58,6),(2.82,.62,5),(3.02,.62,6),(3.25,.68,5),(1.18,.62,6),(1.5,.42,5),(1.7,.38,6),(1.92,.55,5),(2.12,.35,6),(2.22,.58,5),(2.5,.42,7),(2.7,.35,5),(2.95,.45,6),(3.15,.35,5),(1.22,.32,6),(1.42,.4,5),(1.7,.2,6),(1.85,.3,5),(2.1,.2,7),(2.32,.18,6),(2.45,.28,5),(2.68,.2,6),(2.98,.32,5),(3.2,.12,6),(1.08,-.05,5),(1.4,.02,6),(1.55,.12,5),(1.68,-.05,6),(1.92,.0,7),(2.12,.08,5),(2.35,-.02,6),(2.52,.0,5),(2.68,.02,6),(2.9,.0,5),(3.12,.02,6),(1.28,-.2,5),(1.48,-.18,6),(1.78,-.22,5),(2.02,-.18,7),(2.28,-.2,5),(2.55,-.28,6),(2.8,-.22,5),(2.98,-.18,6),(3.18,-.1,5),(1.18,-.38,6),(1.38,-.48,5),(1.58,-.35,6),(1.72,-.42,5),(2.0,-.35,7),(2.18,-.42,5),(2.4,-.4,6),(2.58,-.55,5),(2.78,-.52,6),(2.95,-.32,5),(1.25,-.55,6),(1.48,-.52,7),(1.62,-.58,5),(1.78,-.55,6),(2.1,-.6,5),(2.38,-.58,6),(2.48,-.62,5),(2.72,-.68,6),(1.2,-.78,7),(1.38,-.62,5),(1.58,-.78,6),(1.78,-.82,5),(1.95,-.75,6),(2.15,-.8,7),(2.28,-.85,5),(2.48,-.72,6),(2.6,-.88,5),(1.28,-.95,6),(1.45,-.88,5),(1.72,-.92,6),(1.98,-.95,7),(2.1,-.98,5),(2.38,-1.02,6),(2.7,-1.0,5),(1.1,-1.0,6),(1.3,-1.12,7),(1.48,-1.05,5),(1.62,-1.12,6),(1.85,-1.1,5),(2.02,-1.18,6),(2.22,-1.05,7),(2.32,-1.15,5),(2.55,-1.18,6),(1.05,-1.2,5),(1.22,-1.25,6),(1.42,-1.25,5),(1.6,-1.28,7),(1.72,-1.3,5),(1.9,-1.28,6),(2.08,-1.3,5),(2.28,-1.3,6),(2.45,-1.28,5),(1.1,-1.45,6),(1.4,-1.48,5),(1.55,-1.52,7),(1.72,-1.52,6),(1.88,-1.52,5),(2.12,-1.55,6),(2.28,-1.6,5),(1.08,-1.62,6),(1.35,-1.62,5),(1.62,-1.68,7),(1.95,-1.68,5),(2.12,-1.72,6),(1.42,-1.78,6),(1.7,-1.82,5),(2.0,-1.82,6),(1.15,-1.78,5),(.55,-1.25,5),(.62,-.48,6),(.75,-.2,5),(.92,.02,6),(1.55,1.1,5),(2.95,1.28,6),(2.72,1.28,5),(1.25,.95,6),(1.78,.98,5),(2.0,.88,6),(2.52,.75,5),(2.72,.65,6),(3.12,.58,5),(1.35,.52,6),(1.58,.62,5),(1.82,.42,7),(2.05,.48,6),(2.32,.48,5),(2.6,.45,6),(2.82,.48,5),(1.55,.3,6),(1.78,.12,5),(2.0,.25,6),(2.22,.28,7),(2.42,.05,5),(2.75,.3,6),(1.32,-.02,5),(1.5,-.02,6),(1.85,.05,5),(2.05,-.08,7),(2.28,.08,5),(2.62,-.05,6),(2.95,-.12,5),(1.12,-.22,6),(1.62,-.2,5),(1.92,-.28,6),(2.12,-.18,7),(2.4,-.3,5),(2.68,-.45,6),(2.85,-.12,5),(1.4,-.18,6),(1.52,-.45,5),(1.78,-.42,7),(1.98,-.45,5),(2.3,-.32,6),(2.45,-.5,5),(2.9,-.62,6),(1.3,-.72,5),(1.68,-.62,6),(1.88,-.62,7),(2.2,-.62,5),(2.38,-.7,6),(2.62,-.72,5),(1.12,-.9,6),(1.52,-.78,5),(1.72,-1.02,7),(1.92,-.85,5),(2.28,-1.0,6),(2.58,-1.0,5),(1.22,-1.08,6),(1.38,-1.02,5),(1.58,-1.0,6),(2.02,-1.02,5),(2.42,-1.18,7),(1.15,-1.3,5),(1.32,-1.42,6),(1.52,-1.25,5),(1.8,-1.32,6),(2.0,-1.42,7),(2.2,-1.28,5),(2.38,-1.28,6),(1.22,-1.52,5),(1.62,-1.42,6),(1.8,-1.6,5),(2.0,-1.68,6),(2.2,-1.62,5),(1.35,-1.75,6),(1.55,-1.72,7)]

# ---- Cluster chemical profiles ----
feature_names = ["alcohol", "volatile acidity", "sulphates", "citric acid", "fixed acidity", "residual sugar", "free sulfur dioxide", "pH"]
cluster_names = ["Cluster 0", "Cluster 1", "Cluster 2", "Cluster 3"]
profile_cluster0 = [0.00, 0.04, 0.00, 0.69, 0.06, 1.00, 1.00, 0.00]
profile_cluster1 = [1.00, 0.00, 0.01, 0.59, 0.00, 0.10, 0.45, 0.33]
profile_cluster2 = [0.61, 0.39, 1.00, 1.00, 1.00, 0.03, 0.00, 0.20]
profile_cluster3 = [0.42, 1.00, 0.41, 0.00, 0.15, 0.00, 0.06, 1.00]

# ---- Quality histograms per cluster ----
hist0_edges = [3.0, 3.6, 4.2, 4.8, 5.4, 6.0, 6.6, 7.2, 7.8, 8.4, 9.0]
hist0_counts = [10, 35, 0, 765, 0, 790, 155, 0, 28, 1]
hist1_edges = [3.0, 3.6, 4.2, 4.8, 5.4, 6.0, 6.6, 7.2, 7.8, 8.4, 9.0]
hist1_counts = [7, 72, 0, 596, 0, 1390, 723, 0, 145, 4]
hist2_edges = [3.0, 3.5, 4.0, 4.5, 5.0, 5.5, 6.0, 6.5, 7.0, 7.5, 8.0]
hist2_counts = [2, 0, 30, 0, 256, 0, 292, 0, 145, 12]
hist3_edges = [3.0, 3.5, 4.0, 4.5, 5.0, 5.5, 6.0, 6.5, 7.0, 7.5, 8.0]
hist3_counts = [6, 0, 82, 0, 520, 0, 366, 0, 57, 8]
hist_labels = ["Cluster 0 (n=1784)", "Cluster 1 (n=2937)", "Cluster 2 (n=737)", "Cluster 3 (n=1039)"]
hist_colors = ["#1f77b4", "#ff7f0e", "#2ca02c", "#d62728"]

FONT = "DejaVu Sans"
TICK = "20.8px"
LW = 1.67
FRAME_W, FRAME_H = 802, 834

# RdYlGn colour ramp (matplotlib anchors, red to green)
anchors = ["#a50026", "#d73027", "#f46d43", "#fdae61", "#fee08b", "#ffffbf", "#d9ef8b", "#a6d96a", "#66bd63", "#1a9850", "#006837"]
rgb = np.array([[int(c[i:i + 2], 16) for i in (1, 3, 5)] for c in anchors], float)
pos = np.linspace(0, 1, 256)
RdYlGn256 = ["#%02x%02x%02x" % tuple(int(round(np.interp(t, np.linspace(0, 1, 11), rgb[:, k]))) for k in range(3)) for t in pos]


def collect():
    rows = []
    # the dense-core estimates overlap heavily in the picture, so each is drawn with its near-duplicate
    groups = [cluster0_points + cluster0_core * 2, cluster1_points + cluster1_core * 2, cluster2_points + cluster2_core * 2, cluster3_points + cluster3_core * 2]
    for cid, pts in enumerate(groups):
        rows += [(a, b, cid, q) for a, b, q in pts]
    n = len(rows)
    order = sorted(range(n), key=lambda i: (i * 7919) % n)
    rows = [rows[i] for i in order]
    return dict(pc1=[r[0] for r in rows], pc2=[r[1] for r in rows], cluster=[r[2] for r in rows], quality=[r[3] for r in rows])


source = ColumnDataSource(collect())


def style_axes(p, grid_x=True):
    for ax in (p.xaxis[0], p.yaxis[0]):
        ax.major_label_text_font = FONT
        ax.major_label_text_font_size = TICK
        ax.major_label_text_color = "black"
        ax.axis_label_text_font = FONT
        ax.axis_label_text_font_size = "22.9px"
        ax.axis_label_text_font_style = "bold"
        ax.axis_label_text_color = "black"
        ax.major_tick_line_color = "black"
        ax.major_tick_line_width = LW
        ax.major_tick_out = 7
        ax.major_tick_in = 0
        ax.minor_tick_line_color = None
        ax.axis_line_color = "black"
        ax.axis_line_width = LW
    p.xaxis[0].axis_label_standoff = 8
    p.yaxis[0].axis_label_standoff = 9
    p.outline_line_color = "black"
    p.outline_line_width = LW
    p.outline_line_alpha = 1
    p.xgrid.grid_line_color = "#b0b0b0" if grid_x else None
    p.ygrid.grid_line_color = "#b0b0b0"
    p.xgrid.grid_line_alpha = 0.3
    p.ygrid.grid_line_alpha = 0.3
    p.xgrid.grid_line_width = LW
    p.ygrid.grid_line_width = LW


def add_titles(p, line1, line2):
    p.add_layout(Title(text=line2, align="center", text_font=FONT, text_font_size="25px", text_font_style="bold", standoff=7, text_color="black"), "above")
    p.add_layout(Title(text=line1, align="center", text_font=FONT, text_font_size="25px", text_font_style="bold", standoff=0, text_color="black"), "above")


def set_ticks(axis, ticks):
    axis.ticker = FixedTicker(ticks=ticks)
    axis.major_label_overrides = {t: (str(t).replace("-", "\u2212")) for t in ticks}


def add_colorbar(p, mapper, ticks, fmt, alpha, outlined):
    cb = ColorBar(color_mapper=mapper, width=42, height=FRAME_H, padding=0, margin=0, location=(852, 0), scale_alpha=alpha,
                  ticker=FixedTicker(ticks=ticks), formatter=PrintfTickFormatter(format=fmt),
                  major_label_text_font=FONT, major_label_text_font_size=TICK, major_label_text_color="black",
                  major_tick_line_color="black", major_tick_line_width=LW, major_tick_in=0, major_tick_out=7,
                  minor_tick_line_color=None, bar_line_color="black" if outlined else None, bar_line_width=LW,
                  background_fill_color=None, border_line_color=None, label_standoff=8)
    p.add_layout(cb, "center")


def side_label(text, width, height, y_center, style):
    f = figure(width=width, height=height, x_range=(0, 1), y_range=(0, height), output_backend="svg", toolbar_location=None,
               x_axis_location=None, y_axis_location=None, min_border=0, outline_line_color=None)
    f.grid.visible = False
    f.text(x=[0.5], y=[y_center], text=[text], angle=np.pi / 2, text_font=value(FONT), text_font_size="20.8px", text_font_style=style,
           text_color="black", text_align="center", text_baseline="middle")
    return f


def scatter_panel(width, left, right, field, mapper, line1, line2):
    p = figure(width=width, height=983, x_range=(-6.06, 6.51), y_range=(-4.89, 8.42), output_backend="svg",
               toolbar_location=None, title=None, min_border_left=left, min_border_right=right, min_border_top=69,
               min_border_bottom=80, x_axis_label="PC1 (27.8% variance)", y_axis_label="PC2 (20.5% variance)")
    style_axes(p)
    set_ticks(p.xaxis[0], [-6, -4, -2, 0, 2, 4, 6])
    set_ticks(p.yaxis[0], [-4, -2, 0, 2, 4, 6, 8])
    add_titles(p, line1, line2)
    p.scatter("pc1", "pc2", source=source, size=12, fill_color={"field": field, "transform": mapper}, fill_alpha=0.6,
              line_color="black", line_alpha=0.6, line_width=1.04)
    return p


viridis_mapper = LinearColorMapper(palette=Viridis256, low=0, high=3)
quality_mapper = LinearColorMapper(palette=RdYlGn256, low=3, high=9)
heat_mapper = LinearColorMapper(palette=RdYlGn256, low=0, high=1)

title_fig = figure(width=2381, height=92, x_range=(0, 1), y_range=(0, 92), output_backend="svg", toolbar_location=None,
                   x_axis_location=None, y_axis_location=None, min_border=0, outline_line_color=None)
title_fig.grid.visible = False
title_fig.text(x=[0.5, 0.5], y=[60, 20], text=["Wine Clustering Analysis with PCA", "Dataset: Combined (6,497 samples) (n=6,497)"],
               text_font=value(FONT), text_font_size="33.3px", text_font_style="bold", text_align="center", text_baseline="middle", text_color="black")

p1 = scatter_panel(1198, 251, 145, "cluster", viridis_mapper, "Wine Clusters in 2D PCA Space", "(Natural wine groupings)")
add_colorbar(p1, viridis_mapper, [0, 0.5, 1, 1.5, 2, 2.5, 3], "%.1f", 0.6, True)
p2 = scatter_panel(1069, 142, 125, "quality", quality_mapper, "Quality Distribution in PCA Space", "(Color = Quality score)")
add_colorbar(p2, quality_mapper, [3, 4, 5, 6, 7, 8, 9], "%d", 0.6, True)

# Heatmap
hx, hy, hv = [], [], []
for name, values in zip(cluster_names, [profile_cluster0, profile_cluster1, profile_cluster2, profile_cluster3]):
    for feat, v in zip(feature_names, values):
        hx.append(name); hy.append(feat); hv.append(v)
heat_src = ColumnDataSource(dict(cluster=hx, feature=hy, value=hv, label=["%.2f" % v for v in hv],
                                 tc=["white" if (v < 0.25 or v > 0.75) else "#262626" for v in hv]))
p3 = figure(width=1198, height=988, x_range=FactorRange(factors=cluster_names), y_range=FactorRange(factors=feature_names[::-1]),
            output_backend="svg", toolbar_location=None, title=None, min_border_left=251, min_border_right=145, min_border_top=74,
            min_border_bottom=80, x_axis_label="Wine Cluster", y_axis_label="Chemical Feature")
style_axes(p3)
p3.grid.visible = False
p3.outline_line_color = None
p3.xaxis[0].axis_line_color = None
p3.yaxis[0].axis_line_color = None
add_titles(p3, "Cluster Chemical Profiles", "(Normalized values: 0=Low, 1=High)")
p3.rect("cluster", "feature", 1, 1, source=heat_src, fill_color={"field": "value", "transform": heat_mapper},
        line_color={"field": "value", "transform": heat_mapper}, line_width=0.5)
p3.text("cluster", "feature", text="label", source=heat_src, text_color="tc", text_font=value(FONT), text_font_size=TICK,
        text_align="center", text_baseline="middle")
add_colorbar(p3, heat_mapper, [0, 0.2, 0.4, 0.6, 0.8, 1.0], "%.1f", 1.0, False)

# Histogram
p4 = figure(width=1159, height=988, x_range=(2.70, 9.30), y_range=(0, 1459.5), output_backend="svg", toolbar_location=None,
            title=None, min_border_left=142, min_border_right=14, min_border_top=74, min_border_bottom=80,
            x_axis_label="Quality Score", y_axis_label="Frequency")
style_axes(p4, grid_x=False)
set_ticks(p4.xaxis[0], [3, 4, 5, 6, 7, 8, 9])
p4.yaxis[0].ticker = FixedTicker(ticks=[0, 200, 400, 600, 800, 1000, 1200, 1400])
add_titles(p4, "Quality Distribution by Cluster", "(Are clusters related to quality?)")
items = []
for edges, counts, label, color in zip([hist0_edges, hist1_edges, hist2_edges, hist3_edges],
                                       [hist0_counts, hist1_counts, hist2_counts, hist3_counts], hist_labels, hist_colors):
    r = p4.quad(left=edges[:-1], right=edges[1:], bottom=0, top=counts, fill_color=color, fill_alpha=0.5, line_color=None)
    items.append(LegendItem(label=label, renderers=[r]))
legend = Legend(items=items, location="top_right", margin=9, padding=7, spacing=5, glyph_width=38, glyph_height=14, label_height=22,
                label_standoff=15, label_text_font=FONT, label_text_font_size="18.75px", label_text_color="black",
                border_line_color="#cccccc", border_line_alpha=0.8, border_line_width=1.67, background_fill_alpha=0.8)
p4.add_layout(legend, "center")

top_row = row(p1, side_label("Cluster", 24, 983, 497, "bold"), p2, side_label("Quality", 24, 983, 497, "bold"), spacing=0)
bottom_row = row(p3, side_label("Normalized Value", 24, 988, 497, "normal"), p4, spacing=0)
page = column(title_fig, top_row, bottom_row, spacing=0)
open("out.html", "w").write(file_html(page, INLINE))
